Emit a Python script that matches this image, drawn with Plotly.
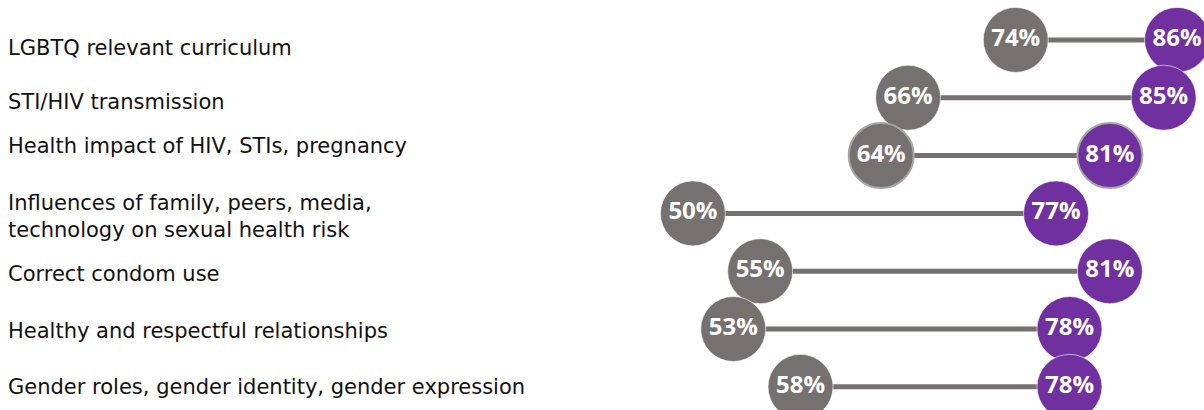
import plotly.graph_objects as go

categories = [
    "LGBTQ relevant curriculum",
    "STI/HIV transmission",
    "Health impact of HIV, STIs, pregnancy",
    "Influences of family, peers, media,<br>technology on sexual health risk",
    "Correct condom use",
    "Healthy and respectful relationships",
    "Gender roles, gender identity, gender expression",
]
gray_values = [74, 66, 64, 50, 55, 53, 58]
purple_values = [86, 85, 81, 77, 81, 78, 78]

GRAY = "#767171"
PURPLE = "#7030A0"
highlight_row = 2
label_offsets = [0.14, 0.07, -0.17, 0.06, 0.04, 0.04, 0.0]

rows = list(range(len(categories)))

fig = go.Figure()

# connecting lines
lx, ly = [], []
for i, (g, p) in enumerate(zip(gray_values, purple_values)):
    lx += [g, p, None]
    ly += [i, i, None]
fig.add_trace(go.Scatter(x=lx, y=ly, mode="lines",
                         line=dict(color=GRAY, width=5),
                         hoverinfo="skip", showlegend=False))

outline_w = [2 if i == highlight_row else 1 for i in rows]
outline_c = ["#A6A6A6" if i == highlight_row else "rgba(255,255,255,0.6)" for i in rows]

for vals, col in [(gray_values, GRAY), (purple_values, PURPLE)]:
    fig.add_trace(go.Scatter(
        x=vals, y=rows, mode="markers+text",
        marker=dict(size=65, color=col, line=dict(width=outline_w, color=outline_c)),
        text=[f"<b>{v}%</b>" for v in vals],
        textposition="middle center",
        textfont=dict(family="Open Sans", size=24, color="white"),
        showlegend=False, cliponaxis=False,
    ))

for i, cat in enumerate(categories):
    fig.add_annotation(x=0, xref="paper", xanchor="left", xshift=6,
                       y=i + label_offsets[i], yref="y", yanchor="middle",
                       text=cat, showarrow=False, align="left",
                       font=dict(family="DejaVu Sans", size=21, color="#111111"))

fig.update_layout(
    width=1204, height=410,
    margin=dict(l=0, r=0, t=0, b=0),
    paper_bgcolor="white", plot_bgcolor="white",
    xaxis=dict(range=[-1.52, 88.0], visible=False),
    yaxis=dict(range=[6.40, -0.69], visible=False),
)

fig.write_html("out.html")
